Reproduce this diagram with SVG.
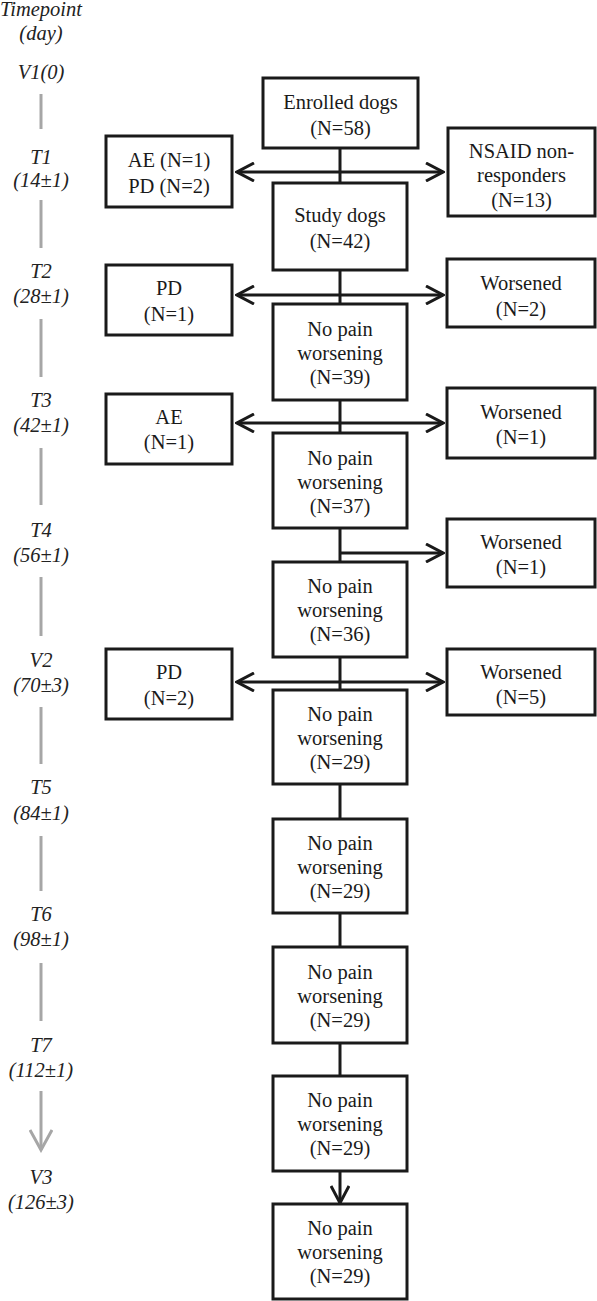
<svg xmlns="http://www.w3.org/2000/svg" width="597" height="1301" viewBox="0 0 597 1301">
<style>
.box{fill:#fff;stroke:#1a1a1a;stroke-width:3}
.t{font-family:"Liberation Serif","Times New Roman",serif;font-size:20.5px;fill:#1a1a1a;text-anchor:middle}
.tl{font-family:"Liberation Serif","Times New Roman",serif;font-size:20.5px;font-style:italic;fill:#222;text-anchor:middle}
.ln{stroke:#1a1a1a;stroke-width:3;fill:none}
.gl{stroke:#a6a6a6;stroke-width:3;fill:none}
</style>
<defs>
<marker id="ah" viewBox="0 0 20 20" refX="18" refY="10" markerWidth="20" markerHeight="20" markerUnits="userSpaceOnUse" orient="auto-start-reverse">
<path d="M1,1 L18,10 L1,19" fill="none" stroke="#1a1a1a" stroke-width="3"/>
</marker>
<marker id="gah" viewBox="0 0 24 24" refX="21" refY="12" markerWidth="24" markerHeight="24" markerUnits="userSpaceOnUse" orient="auto">
<path d="M1,1 L21,12 L1,23" fill="none" stroke="#a6a6a6" stroke-width="3"/>
</marker>
</defs>
<rect width="597" height="1301" fill="#fff"/>

<g id="timeline">
<text class="tl" x="41" y="16">Timepoint</text>
<text class="tl" x="41" y="40">(day)</text>
<text class="tl" x="41" y="79">V1(0)</text>
<line class="gl" x1="41" y1="94" x2="41" y2="129"/>
<text class="tl" x="41" y="164">T1</text>
<text class="tl" x="41" y="187">(14±1)</text>
<line class="gl" x1="41" y1="200" x2="41" y2="248"/>
<text class="tl" x="41" y="278">T2</text>
<text class="tl" x="41" y="303">(28±1)</text>
<line class="gl" x1="41" y1="319" x2="41" y2="377"/>
<text class="tl" x="41" y="407">T3</text>
<text class="tl" x="41" y="432">(42±1)</text>
<line class="gl" x1="41" y1="448" x2="41" y2="505"/>
<text class="tl" x="41" y="537">T4</text>
<text class="tl" x="41" y="562">(56±1)</text>
<line class="gl" x1="41" y1="577" x2="41" y2="636"/>
<text class="tl" x="41" y="667">V2</text>
<text class="tl" x="41" y="692">(70±3)</text>
<line class="gl" x1="41" y1="707" x2="41" y2="764"/>
<text class="tl" x="41" y="794">T5</text>
<text class="tl" x="41" y="820">(84±1)</text>
<line class="gl" x1="41" y1="836" x2="41" y2="891"/>
<text class="tl" x="41" y="921">T6</text>
<text class="tl" x="41" y="946">(98±1)</text>
<line class="gl" x1="41" y1="963" x2="41" y2="1021"/>
<text class="tl" x="41" y="1052">T7</text>
<text class="tl" x="41" y="1077">(112±1)</text>
<line class="gl" x1="41" y1="1091" x2="41" y2="1150" marker-end="url(#gah)"/>
<text class="tl" x="41" y="1184">V3</text>
<text class="tl" x="41" y="1209">(126±3)</text>
</g>

<g id="connectors">
<line class="ln" x1="340" y1="148" x2="340" y2="183"/>
<line class="ln" x1="237" y1="172" x2="443" y2="172" marker-start="url(#ah)" marker-end="url(#ah)"/>
<line class="ln" x1="340" y1="270" x2="340" y2="304"/>
<line class="ln" x1="237" y1="295" x2="443" y2="295" marker-start="url(#ah)" marker-end="url(#ah)"/>
<line class="ln" x1="340" y1="400" x2="340" y2="433"/>
<line class="ln" x1="237" y1="423" x2="443" y2="423" marker-start="url(#ah)" marker-end="url(#ah)"/>
<line class="ln" x1="340" y1="528" x2="340" y2="562"/>
<line class="ln" x1="340" y1="553" x2="443" y2="553" marker-end="url(#ah)"/>
<line class="ln" x1="340" y1="657" x2="340" y2="690"/>
<line class="ln" x1="237" y1="682" x2="443" y2="682" marker-start="url(#ah)" marker-end="url(#ah)"/>
<line class="ln" x1="340" y1="784" x2="340" y2="819"/>
<line class="ln" x1="340" y1="913" x2="340" y2="947"/>
<line class="ln" x1="340" y1="1043" x2="340" y2="1076"/>
<line class="ln" x1="340" y1="1171" x2="340" y2="1203" marker-end="url(#ah)"/>
</g>

<g id="enrolled">
<rect class="box" x="263" y="78" width="155" height="70"/>
<text class="t" x="340.5" y="109">Enrolled dogs</text>
<text class="t" x="340.5" y="135">(N=58)</text>
</g>
<g id="t1-left">
<rect class="box" x="106" y="136" width="126" height="71"/>
<text class="t" x="169" y="167">AE (N=1)</text>
<text class="t" x="169" y="193">PD (N=2)</text>
</g>
<g id="t1-right">
<rect class="box" x="448" y="128" width="147" height="88"/>
<text class="t" x="521.5" y="158">NSAID non-</text>
<text class="t" x="521.5" y="182">responders</text>
<text class="t" x="521.5" y="207">(N=13)</text>
</g>
<g id="study">
<rect class="box" x="273" y="183" width="134" height="87"/>
<text class="t" x="340" y="222">Study dogs</text>
<text class="t" x="340" y="248">(N=42)</text>
</g>
<g id="t2-left">
<rect class="box" x="106" y="265" width="126" height="70"/>
<text class="t" x="169" y="295">PD</text>
<text class="t" x="169" y="321">(N=1)</text>
</g>
<g id="t2-right">
<rect class="box" x="447" y="259" width="148" height="68"/>
<text class="t" x="521" y="290">Worsened</text>
<text class="t" x="521" y="316">(N=2)</text>
</g>
<g id="n39">
<rect class="box" x="273" y="304" width="134" height="96"/>
<text class="t" x="340" y="336">No pain</text>
<text class="t" x="340" y="360">worsening</text>
<text class="t" x="340" y="384">(N=39)</text>
</g>
<g id="t3-left">
<rect class="box" x="106" y="394" width="126" height="70"/>
<text class="t" x="169" y="424">AE</text>
<text class="t" x="169" y="449">(N=1)</text>
</g>
<g id="t3-right">
<rect class="box" x="447" y="388" width="148" height="70"/>
<text class="t" x="521" y="419">Worsened</text>
<text class="t" x="521" y="444">(N=1)</text>
</g>
<g id="n37">
<rect class="box" x="273" y="433" width="134" height="95"/>
<text class="t" x="340" y="465">No pain</text>
<text class="t" x="340" y="489">worsening</text>
<text class="t" x="340" y="513">(N=37)</text>
</g>
<g id="t4-right">
<rect class="box" x="447" y="519" width="148" height="68"/>
<text class="t" x="521" y="549">Worsened</text>
<text class="t" x="521" y="574">(N=1)</text>
</g>
<g id="n36">
<rect class="box" x="273" y="562" width="134" height="95"/>
<text class="t" x="340" y="593">No pain</text>
<text class="t" x="340" y="617">worsening</text>
<text class="t" x="340" y="641">(N=36)</text>
</g>
<g id="v2-left">
<rect class="box" x="106" y="649" width="126" height="70"/>
<text class="t" x="169" y="679">PD</text>
<text class="t" x="169" y="705">(N=2)</text>
</g>
<g id="v2-right">
<rect class="box" x="447" y="649" width="148" height="66"/>
<text class="t" x="521" y="679">Worsened</text>
<text class="t" x="521" y="704">(N=5)</text>
</g>
<g id="n29a">
<rect class="box" x="273" y="690" width="134" height="94"/>
<text class="t" x="340" y="721">No pain</text>
<text class="t" x="340" y="745">worsening</text>
<text class="t" x="340" y="769">(N=29)</text>
</g>
<g id="n29b">
<rect class="box" x="273" y="819" width="134" height="94"/>
<text class="t" x="340" y="850">No pain</text>
<text class="t" x="340" y="874">worsening</text>
<text class="t" x="340" y="898">(N=29)</text>
</g>
<g id="n29c">
<rect class="box" x="273" y="947" width="134" height="96"/>
<text class="t" x="340" y="979">No pain</text>
<text class="t" x="340" y="1003">worsening</text>
<text class="t" x="340" y="1027">(N=29)</text>
</g>
<g id="n29d">
<rect class="box" x="273" y="1076" width="134" height="95"/>
<text class="t" x="340" y="1107">No pain</text>
<text class="t" x="340" y="1131">worsening</text>
<text class="t" x="340" y="1155">(N=29)</text>
</g>
<g id="n29e">
<rect class="box" x="273" y="1204" width="134" height="95"/>
<text class="t" x="340" y="1235">No pain</text>
<text class="t" x="340" y="1259">worsening</text>
<text class="t" x="340" y="1283">(N=29)</text>
</g>
</svg>
